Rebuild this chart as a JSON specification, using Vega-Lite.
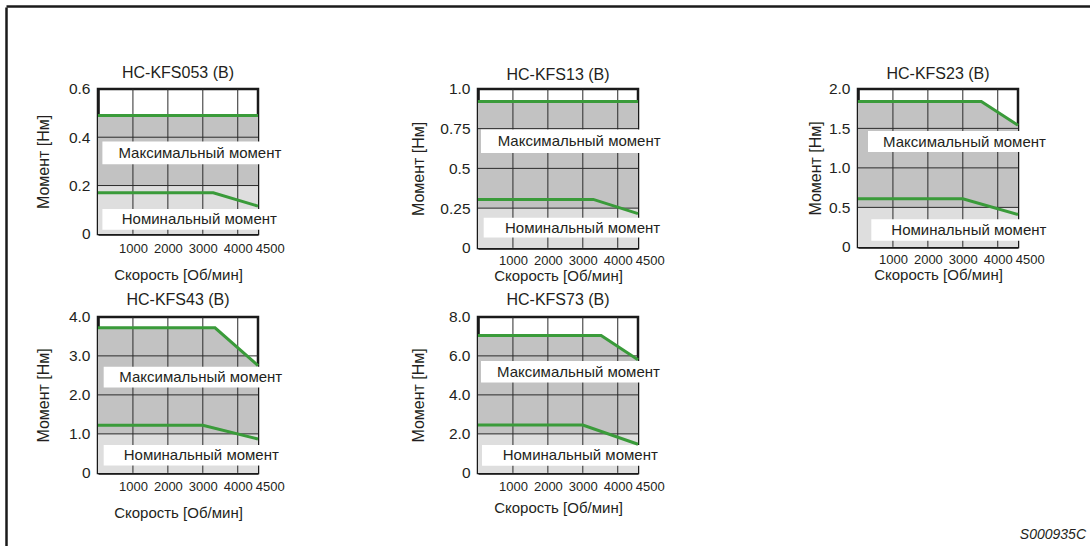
{
  "$schema": "https://vega.github.io/schema/vega-lite/v6.json",
  "padding": {"left": 6, "top": 6, "right": 0, "bottom": 0},
  "config": {
    "font": "Liberation Sans",
    "view": {"stroke": "#1a1a1a", "strokeWidth": 2.5},
    "axis": {"labelFont": "Liberation Sans", "titleFont": "Liberation Sans", "labelColor": "#231f20", "titleColor": "#231f20", "titleFontWeight": "normal", "ticks": false, "grid": false, "domainColor": "#1a1a1a", "domainWidth": 2.5, "zindex": 1, "labelFlush": false, "labelOverlap": false},
    "axisX": {"labelFontSize": 13, "titleFontSize": 15},
    "axisY": {"labelFontSize": 15.5, "titleFontSize": 16, "labelPadding": 8},
    "title": {"font": "Liberation Sans", "fontSize": 16, "fontWeight": "normal", "color": "#231f20"}
  },
  "datasets": {
    "curves": [
      {"motor": "HC-KFS053 (B)", "curve": "max", "speed": 0, "torque": 0.49},
      {"motor": "HC-KFS053 (B)", "curve": "max", "speed": 4580, "torque": 0.49},
      {"motor": "HC-KFS053 (B)", "curve": "nom", "speed": 0, "torque": 0.17},
      {"motor": "HC-KFS053 (B)", "curve": "nom", "speed": 3300, "torque": 0.17},
      {"motor": "HC-KFS053 (B)", "curve": "nom", "speed": 4580, "torque": 0.115},
      {"motor": "HC-KFS13 (B)", "curve": "max", "speed": 0, "torque": 0.92},
      {"motor": "HC-KFS13 (B)", "curve": "max", "speed": 4580, "torque": 0.92},
      {"motor": "HC-KFS13 (B)", "curve": "nom", "speed": 0, "torque": 0.305},
      {"motor": "HC-KFS13 (B)", "curve": "nom", "speed": 3300, "torque": 0.305},
      {"motor": "HC-KFS13 (B)", "curve": "nom", "speed": 4580, "torque": 0.215},
      {"motor": "HC-KFS23 (B)", "curve": "max", "speed": 0, "torque": 1.84},
      {"motor": "HC-KFS23 (B)", "curve": "max", "speed": 3530, "torque": 1.84},
      {"motor": "HC-KFS23 (B)", "curve": "max", "speed": 4580, "torque": 1.54},
      {"motor": "HC-KFS23 (B)", "curve": "nom", "speed": 0, "torque": 0.61},
      {"motor": "HC-KFS23 (B)", "curve": "nom", "speed": 3000, "torque": 0.61},
      {"motor": "HC-KFS23 (B)", "curve": "nom", "speed": 4580, "torque": 0.41},
      {"motor": "HC-KFS43 (B)", "curve": "max", "speed": 0, "torque": 3.72},
      {"motor": "HC-KFS43 (B)", "curve": "max", "speed": 3350, "torque": 3.72},
      {"motor": "HC-KFS43 (B)", "curve": "max", "speed": 4580, "torque": 2.75},
      {"motor": "HC-KFS43 (B)", "curve": "nom", "speed": 0, "torque": 1.22},
      {"motor": "HC-KFS43 (B)", "curve": "nom", "speed": 3000, "torque": 1.22},
      {"motor": "HC-KFS43 (B)", "curve": "nom", "speed": 4580, "torque": 0.87},
      {"motor": "HC-KFS73 (B)", "curve": "max", "speed": 0, "torque": 7.05},
      {"motor": "HC-KFS73 (B)", "curve": "max", "speed": 3525, "torque": 7.05},
      {"motor": "HC-KFS73 (B)", "curve": "max", "speed": 4580, "torque": 5.8},
      {"motor": "HC-KFS73 (B)", "curve": "nom", "speed": 0, "torque": 2.45},
      {"motor": "HC-KFS73 (B)", "curve": "nom", "speed": 3000, "torque": 2.45},
      {"motor": "HC-KFS73 (B)", "curve": "nom", "speed": 4580, "torque": 1.47}
    ],
    "levels": [
      {"motor": "HC-KFS053 (B)", "cont": 0.2},
      {"motor": "HC-KFS13 (B)", "cont": 0.25},
      {"motor": "HC-KFS23 (B)", "cont": 0.5},
      {"motor": "HC-KFS43 (B)", "cont": 1.0},
      {"motor": "HC-KFS73 (B)", "cont": 2.0}
    ],
    "xgrid": [{"s": 1000}, {"s": 2000}, {"s": 3000}, {"s": 4000}],
    "one": [{}],
    "frame": [{"v": 0}]
  },
  "title": {"text": "S000935C", "orient": "bottom", "anchor": "end", "fontStyle": "italic", "fontSize": 14, "fontWeight": "normal", "color": "#231f20", "dx": -4, "dy": -80},
  "spacing": 0,
  "vconcat": [
    {"data": {"name": "frame"}, "mark": {"type": "point", "opacity": 0, "size": 0},
     "encoding": {"x": {"field": "v", "type": "quantitative", "axis": {"orient": "top", "labels": false, "title": null, "domain": true}}},
     "width": 1084, "height": 1, "view": {"stroke": null}},
    {
      "center": true,
      "spacing": 27,
      "hconcat": [
        {"data": {"name": "frame"}, "mark": {"type": "point", "opacity": 0, "size": 0},
         "encoding": {"y": {"field": "v", "type": "quantitative", "axis": {"orient": "left", "labels": false, "title": null, "domain": true}}},
         "width": 1, "height": 597, "view": {"stroke": null}},
        {
          "columns": 3,
          "bounds": "flush",
          "spacing": {"row": 69, "column": 220},
          "concat": [
            {
              "width": 160, "height": 145,
              "title": {"text": "HC-KFS053 (B)", "offset": 1},
              "layer": [
                {"data": {"name": "curves"}, "transform": [{"filter": "datum.motor == 'HC-KFS053 (B)' && datum.curve == 'max'"}],
                 "mark": {"type": "area", "color": "#c2c2c2", "opacity": 1},
                 "encoding": {
                   "x": {"field": "speed", "type": "quantitative", "scale": {"domain": [0, 4580], "nice": false, "zero": false},
                         "axis": {"values": [1000, 2000, 3000, 4000, 4500], "tickCount": 20, "format": "d", "labelOverlap": false, "labelAlign": {"condition": {"test": "datum.value == 4500", "value": "left"}, "value": "center"}, "labelPadding": 9, "titlePadding": 12, "title": "Скорость [Об/мин]"}},
                   "y": {"field": "torque", "type": "quantitative", "scale": {"domain": [0, 0.6], "nice": false},
                         "axis": {"values": [0, 0.2, 0.4, 0.6], "tickCount": 20, "labelOverlap": false, "labelExpr": "datum.value == 0 ? '0' : format(datum.value, '.1f')", "title": "Момент [Нм]", "titlePadding": 17}},
                   "y2": {"datum": 0}
                 }},
                {"data": {"name": "levels"}, "transform": [{"filter": "datum.motor == 'HC-KFS053 (B)'"}],
                 "mark": {"type": "rect", "color": "#dedede"},
                 "encoding": {"x": {"datum": 0}, "x2": {"datum": 4580}, "y": {"field": "cont", "type": "quantitative"}, "y2": {"datum": 0}}},
                {"data": {"name": "xgrid"}, "mark": {"type": "rule", "color": "#2b2b2b", "strokeWidth": 1}, "encoding": {"x": {"field": "s", "type": "quantitative"}}},
                {"data": {"values": [{"t": 0.2}, {"t": 0.4}]}, "mark": {"type": "rule", "color": "#2b2b2b", "strokeWidth": 1}, "encoding": {"y": {"field": "t", "type": "quantitative"}}},
                {"data": {"name": "one"}, "mark": {"type": "rect", "color": "white"}, "encoding": {"x": {"datum": 126}, "x2": {"datum": 5267}, "y": {"datum": 0.382}, "y2": {"datum": 0.288}}},
                {"data": {"name": "one"}, "mark": {"type": "text", "text": "Максимальный момент", "align": "left", "baseline": "middle", "fontSize": 15, "color": "#231f20"}, "encoding": {"x": {"datum": 585}, "y": {"datum": 0.335}}},
                {"data": {"name": "one"}, "mark": {"type": "rect", "color": "white"}, "encoding": {"x": {"datum": 126}, "x2": {"datum": 5267}, "y": {"datum": 0.103}, "y2": {"datum": 0.017}}},
                {"data": {"name": "one"}, "mark": {"type": "text", "text": "Номинальный момент", "align": "left", "baseline": "middle", "fontSize": 15, "color": "#231f20"}, "encoding": {"x": {"datum": 680}, "y": {"datum": 0.06}}},
                {"data": {"name": "curves"}, "transform": [{"filter": "datum.motor == 'HC-KFS053 (B)'"}],
                 "mark": {"type": "line", "color": "#3a9b3a", "strokeWidth": 3},
                 "encoding": {"x": {"field": "speed", "type": "quantitative"}, "y": {"field": "torque", "type": "quantitative"}, "detail": {"field": "curve"}}}
              ]
            },
            {
              "width": 160, "height": 159,
              "title": {"text": "HC-KFS13 (B)", "offset": -1},
              "layer": [
                {"data": {"name": "curves"}, "transform": [{"filter": "datum.motor == 'HC-KFS13 (B)' && datum.curve == 'max'"}],
                 "mark": {"type": "area", "color": "#c2c2c2", "opacity": 1},
                 "encoding": {
                   "x": {"field": "speed", "type": "quantitative", "scale": {"domain": [0, 4580], "nice": false, "zero": false},
                         "axis": {"values": [1000, 2000, 3000, 4000, 4500], "tickCount": 20, "format": "d", "labelOverlap": false, "labelAlign": {"condition": {"test": "datum.value == 4500", "value": "left"}, "value": "center"}, "labelPadding": 7, "titlePadding": 1, "title": "Скорость [Об/мин]"}},
                   "y": {"field": "torque", "type": "quantitative", "scale": {"domain": [0, 1], "nice": false},
                         "axis": {"values": [0, 0.25, 0.5, 0.75, 1], "tickCount": 20, "labelOverlap": false, "labelExpr": "datum.value == 0 ? '0' : datum.value == 1 ? '1.0' : format(datum.value, '')", "title": "Момент [Нм]", "titlePadding": 13}},
                   "y2": {"datum": 0}
                 }},
                {"data": {"name": "levels"}, "transform": [{"filter": "datum.motor == 'HC-KFS13 (B)'"}],
                 "mark": {"type": "rect", "color": "#dedede"},
                 "encoding": {"x": {"datum": 0}, "x2": {"datum": 4580}, "y": {"field": "cont", "type": "quantitative"}, "y2": {"datum": 0}}},
                {"data": {"name": "xgrid"}, "mark": {"type": "rule", "color": "#2b2b2b", "strokeWidth": 1}, "encoding": {"x": {"field": "s", "type": "quantitative"}}},
                {"data": {"values": [{"t": 0.25}, {"t": 0.5}, {"t": 0.75}]}, "mark": {"type": "rule", "color": "#2b2b2b", "strokeWidth": 1}, "encoding": {"y": {"field": "t", "type": "quantitative"}}},
                {"data": {"name": "one"}, "mark": {"type": "rect", "color": "white"}, "encoding": {"x": {"datum": 86}, "x2": {"datum": 5238}, "y": {"datum": 0.744}, "y2": {"datum": 0.597}}},
                {"data": {"name": "one"}, "mark": {"type": "text", "text": "Максимальный момент", "align": "left", "baseline": "middle", "fontSize": 15, "color": "#231f20"}, "encoding": {"x": {"datum": 564}, "y": {"datum": 0.671}}},
                {"data": {"name": "one"}, "mark": {"type": "rect", "color": "white"}, "encoding": {"x": {"datum": 163}, "x2": {"datum": 5238}, "y": {"datum": 0.19}, "y2": {"datum": 0.065}}},
                {"data": {"name": "one"}, "mark": {"type": "text", "text": "Номинальный момент", "align": "left", "baseline": "middle", "fontSize": 15, "color": "#231f20"}, "encoding": {"x": {"datum": 773}, "y": {"datum": 0.128}}},
                {"data": {"name": "curves"}, "transform": [{"filter": "datum.motor == 'HC-KFS13 (B)'"}],
                 "mark": {"type": "line", "color": "#3a9b3a", "strokeWidth": 3},
                 "encoding": {"x": {"field": "speed", "type": "quantitative"}, "y": {"field": "torque", "type": "quantitative"}, "detail": {"field": "curve"}}}
              ]
            },
            {
              "width": 160, "height": 158,
              "title": {"text": "HC-KFS23 (B)", "offset": 0},
              "layer": [
                {"data": {"name": "curves"}, "transform": [{"filter": "datum.motor == 'HC-KFS23 (B)' && datum.curve == 'max'"}],
                 "mark": {"type": "area", "color": "#c2c2c2", "opacity": 1},
                 "encoding": {
                   "x": {"field": "speed", "type": "quantitative", "scale": {"domain": [0, 4580], "nice": false, "zero": false},
                         "axis": {"values": [1000, 2000, 3000, 4000, 4500], "tickCount": 20, "format": "d", "labelOverlap": false, "labelAlign": {"condition": {"test": "datum.value == 4500", "value": "left"}, "value": "center"}, "labelPadding": 7, "titlePadding": 1, "title": "Скорость [Об/мин]"}},
                   "y": {"field": "torque", "type": "quantitative", "scale": {"domain": [0, 2], "nice": false},
                         "axis": {"values": [0, 0.5, 1, 1.5, 2], "tickCount": 20, "labelOverlap": false, "labelExpr": "datum.value == 0 ? '0' : format(datum.value, '.1f')", "title": "Момент [Нм]", "titlePadding": 5}},
                   "y2": {"datum": 0}
                 }},
                {"data": {"name": "levels"}, "transform": [{"filter": "datum.motor == 'HC-KFS23 (B)'"}],
                 "mark": {"type": "rect", "color": "#dedede"},
                 "encoding": {"x": {"datum": 0}, "x2": {"datum": 4580}, "y": {"field": "cont", "type": "quantitative"}, "y2": {"datum": 0}}},
                {"data": {"name": "xgrid"}, "mark": {"type": "rule", "color": "#2b2b2b", "strokeWidth": 1}, "encoding": {"x": {"field": "s", "type": "quantitative"}}},
                {"data": {"values": [{"t": 0.5}, {"t": 1.0}, {"t": 1.5}]}, "mark": {"type": "rule", "color": "#2b2b2b", "strokeWidth": 1}, "encoding": {"y": {"field": "t", "type": "quantitative"}}},
                {"data": {"name": "one"}, "mark": {"type": "rect", "color": "white"}, "encoding": {"x": {"datum": 286}, "x2": {"datum": 5439}, "y": {"datum": 1.466}, "y2": {"datum": 1.2}}},
                {"data": {"name": "one"}, "mark": {"type": "text", "text": "Максимальный момент", "align": "left", "baseline": "middle", "fontSize": 15, "color": "#231f20"}, "encoding": {"x": {"datum": 716}, "y": {"datum": 1.333}}},
                {"data": {"name": "one"}, "mark": {"type": "rect", "color": "white"}, "encoding": {"x": {"datum": 381}, "x2": {"datum": 5439}, "y": {"datum": 0.35}, "y2": {"datum": 0.076}}},
                {"data": {"name": "one"}, "mark": {"type": "text", "text": "Номинальный момент", "align": "left", "baseline": "middle", "fontSize": 15, "color": "#231f20"}, "encoding": {"x": {"datum": 953}, "y": {"datum": 0.215}}},
                {"data": {"name": "curves"}, "transform": [{"filter": "datum.motor == 'HC-KFS23 (B)'"}],
                 "mark": {"type": "line", "color": "#3a9b3a", "strokeWidth": 3},
                 "encoding": {"x": {"field": "speed", "type": "quantitative"}, "y": {"field": "torque", "type": "quantitative"}, "detail": {"field": "curve"}}}
              ]
            },
            {
              "width": 160, "height": 156,
              "title": {"text": "HC-KFS43 (B)", "offset": 2},
              "layer": [
                {"data": {"name": "curves"}, "transform": [{"filter": "datum.motor == 'HC-KFS43 (B)' && datum.curve == 'max'"}],
                 "mark": {"type": "area", "color": "#c2c2c2", "opacity": 1},
                 "encoding": {
                   "x": {"field": "speed", "type": "quantitative", "scale": {"domain": [0, 4580], "nice": false, "zero": false},
                         "axis": {"values": [1000, 2000, 3000, 4000, 4500], "tickCount": 20, "format": "d", "labelOverlap": false, "labelAlign": {"condition": {"test": "datum.value == 4500", "value": "left"}, "value": "center"}, "labelPadding": 8, "titlePadding": 12, "title": "Скорость [Об/мин]"}},
                   "y": {"field": "torque", "type": "quantitative", "scale": {"domain": [0, 4], "nice": false},
                         "axis": {"values": [0, 1, 2, 3, 4], "tickCount": 20, "labelOverlap": false, "labelExpr": "datum.value == 0 ? '0' : format(datum.value, '.1f')", "title": "Момент [Нм]", "titlePadding": 17}},
                   "y2": {"datum": 0}
                 }},
                {"data": {"name": "levels"}, "transform": [{"filter": "datum.motor == 'HC-KFS43 (B)'"}],
                 "mark": {"type": "rect", "color": "#dedede"},
                 "encoding": {"x": {"datum": 0}, "x2": {"datum": 4580}, "y": {"field": "cont", "type": "quantitative"}, "y2": {"datum": 0}}},
                {"data": {"name": "xgrid"}, "mark": {"type": "rule", "color": "#2b2b2b", "strokeWidth": 1}, "encoding": {"x": {"field": "s", "type": "quantitative"}}},
                {"data": {"values": [{"t": 1}, {"t": 2}, {"t": 3}]}, "mark": {"type": "rule", "color": "#2b2b2b", "strokeWidth": 1}, "encoding": {"y": {"field": "t", "type": "quantitative"}}},
                {"data": {"name": "one"}, "mark": {"type": "rect", "color": "white"}, "encoding": {"x": {"datum": 163}, "x2": {"datum": 5267}, "y": {"datum": 2.72}, "y2": {"datum": 2.19}}},
                {"data": {"name": "one"}, "mark": {"type": "text", "text": "Максимальный момент", "align": "left", "baseline": "middle", "fontSize": 15, "color": "#231f20"}, "encoding": {"x": {"datum": 610}, "y": {"datum": 2.457}}},
                {"data": {"name": "one"}, "mark": {"type": "rect", "color": "white"}, "encoding": {"x": {"datum": 163}, "x2": {"datum": 5267}, "y": {"datum": 0.717}, "y2": {"datum": 0.187}}},
                {"data": {"name": "one"}, "mark": {"type": "text", "text": "Номинальный момент", "align": "left", "baseline": "middle", "fontSize": 15, "color": "#231f20"}, "encoding": {"x": {"datum": 736}, "y": {"datum": 0.45}}},
                {"data": {"name": "curves"}, "transform": [{"filter": "datum.motor == 'HC-KFS43 (B)'"}],
                 "mark": {"type": "line", "color": "#3a9b3a", "strokeWidth": 3},
                 "encoding": {"x": {"field": "speed", "type": "quantitative"}, "y": {"field": "torque", "type": "quantitative"}, "detail": {"field": "curve"}}}
              ]
            },
            {
              "width": 160, "height": 156,
              "title": {"text": "HC-KFS73 (B)", "offset": 2},
              "layer": [
                {"data": {"name": "curves"}, "transform": [{"filter": "datum.motor == 'HC-KFS73 (B)' && datum.curve == 'max'"}],
                 "mark": {"type": "area", "color": "#c2c2c2", "opacity": 1},
                 "encoding": {
                   "x": {"field": "speed", "type": "quantitative", "scale": {"domain": [0, 4580], "nice": false, "zero": false},
                         "axis": {"values": [1000, 2000, 3000, 4000, 4500], "tickCount": 20, "format": "d", "labelOverlap": false, "labelAlign": {"condition": {"test": "datum.value == 4500", "value": "left"}, "value": "center"}, "labelPadding": 8, "titlePadding": 7, "title": "Скорость [Об/мин]"}},
                   "y": {"field": "torque", "type": "quantitative", "scale": {"domain": [0, 8], "nice": false},
                         "axis": {"values": [0, 2, 4, 6, 8], "tickCount": 20, "labelOverlap": false, "labelExpr": "datum.value == 0 ? '0' : format(datum.value, '.1f')", "title": "Момент [Нм]", "titlePadding": 22}},
                   "y2": {"datum": 0}
                 }},
                {"data": {"name": "levels"}, "transform": [{"filter": "datum.motor == 'HC-KFS73 (B)'"}],
                 "mark": {"type": "rect", "color": "#dedede"},
                 "encoding": {"x": {"datum": 0}, "x2": {"datum": 4580}, "y": {"field": "cont", "type": "quantitative"}, "y2": {"datum": 0}}},
                {"data": {"name": "xgrid"}, "mark": {"type": "rule", "color": "#2b2b2b", "strokeWidth": 1}, "encoding": {"x": {"field": "s", "type": "quantitative"}}},
                {"data": {"values": [{"t": 2}, {"t": 4}, {"t": 6}]}, "mark": {"type": "rule", "color": "#2b2b2b", "strokeWidth": 1}, "encoding": {"y": {"field": "t", "type": "quantitative"}}},
                {"data": {"name": "one"}, "mark": {"type": "rect", "color": "white"}, "encoding": {"x": {"datum": 86}, "x2": {"datum": 5238}, "y": {"datum": 5.74}, "y2": {"datum": 4.63}}},
                {"data": {"name": "one"}, "mark": {"type": "text", "text": "Максимальный момент", "align": "left", "baseline": "middle", "fontSize": 15, "color": "#231f20"}, "encoding": {"x": {"datum": 544}, "y": {"datum": 5.18}}},
                {"data": {"name": "one"}, "mark": {"type": "rect", "color": "white"}, "encoding": {"x": {"datum": 115}, "x2": {"datum": 5238}, "y": {"datum": 1.43}, "y2": {"datum": 0.37}}},
                {"data": {"name": "one"}, "mark": {"type": "text", "text": "Номинальный момент", "align": "left", "baseline": "middle", "fontSize": 15, "color": "#231f20"}, "encoding": {"x": {"datum": 707}, "y": {"datum": 0.9}}},
                {"data": {"name": "curves"}, "transform": [{"filter": "datum.motor == 'HC-KFS73 (B)'"}],
                 "mark": {"type": "line", "color": "#3a9b3a", "strokeWidth": 3},
                 "encoding": {"x": {"field": "speed", "type": "quantitative"}, "y": {"field": "torque", "type": "quantitative"}, "detail": {"field": "curve"}}}
              ]
            }
          ]
        }
      ]
    }
  ]
}
